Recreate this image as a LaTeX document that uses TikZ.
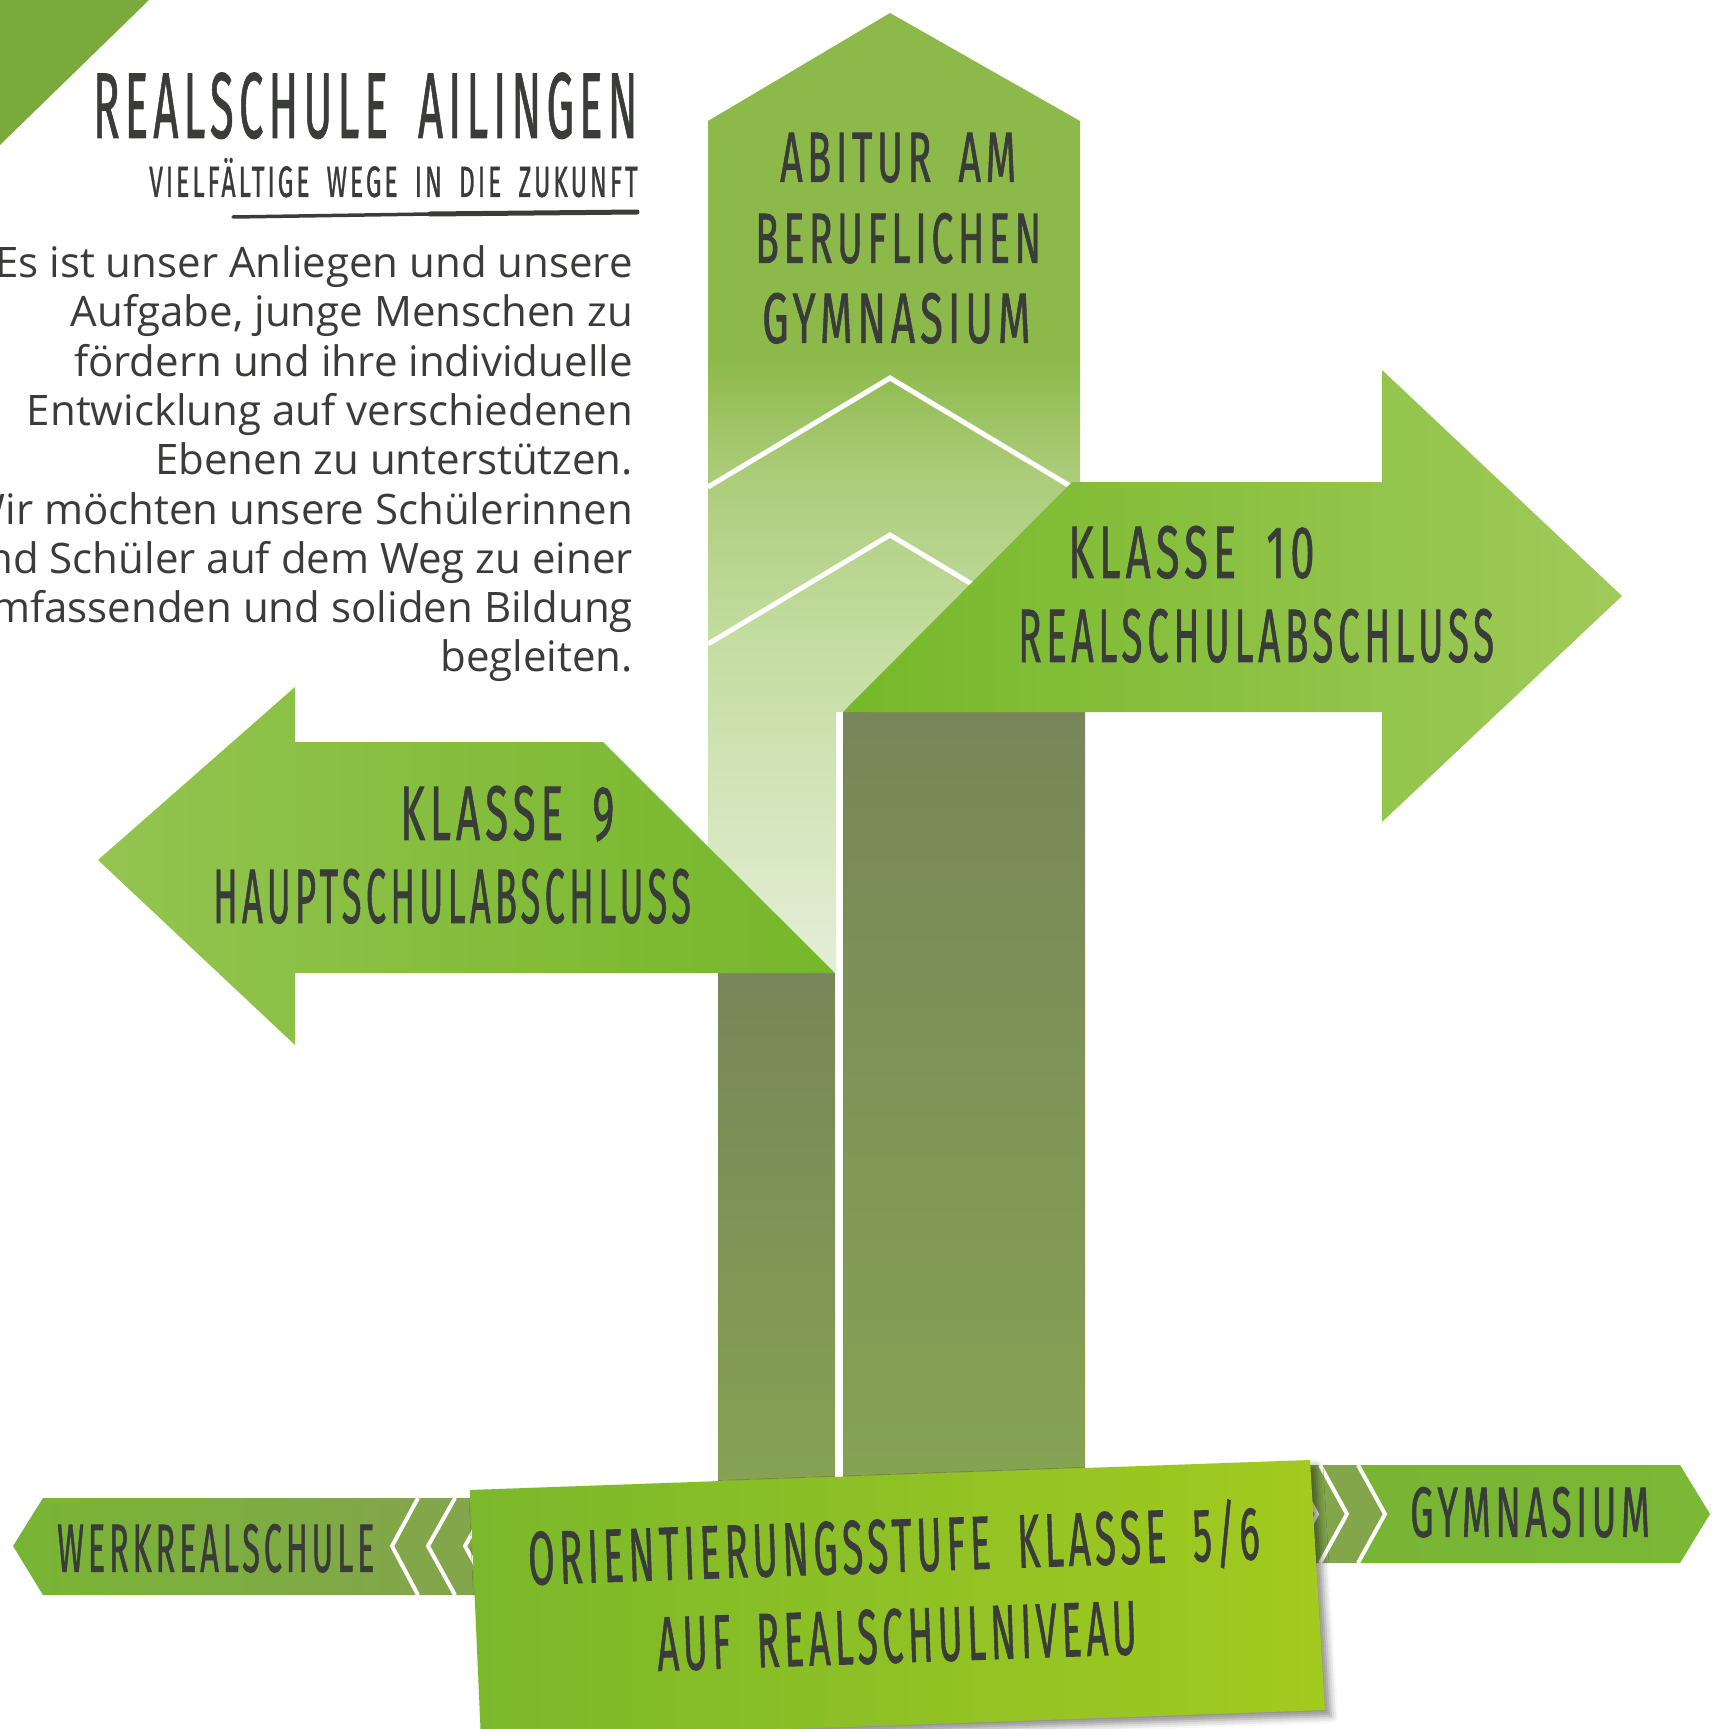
\documentclass[tikz,border=0pt]{standalone}
\usepackage{fontspec}
\usepackage{graphicx}
\setmainfont{Open Sans}
\newfontfamily\handfont[LetterSpace=12,WordSpace=1.8,FakeBold=1.2]{Fira Sans}
\newfontfamily\bodyfont{Open Sans}
\usetikzlibrary{shadows.blur}
\definecolor{txt}{HTML}{3A3C3A}
\definecolor{cornergreen}{HTML}{7BAA3C}
\definecolor{abA}{HTML}{8DB94A}
\definecolor{abB}{HTML}{ABCC7A}
\definecolor{abC}{HTML}{C5DDA2}
\definecolor{abD}{HTML}{E4EED7}
\definecolor{kzL}{HTML}{76B82A}
\definecolor{kzR}{HTML}{A0CA5A}
\definecolor{knL}{HTML}{93C450}
\definecolor{knR}{HTML}{76B72A}
\definecolor{stemT}{HTML}{788659}
\definecolor{stemB}{HTML}{87A453}
\definecolor{olive}{HTML}{83A64B}
\definecolor{bandG}{HTML}{78B534}
\definecolor{bandGR}{HTML}{7BB836}
\definecolor{boxL}{HTML}{7BB82B}
\definecolor{boxR}{HTML}{A3CA1F}
\pgfdeclareverticalshading{abit}{100bp}{color(0bp)=(abD); color(25bp)=(abD); color(42bp)=(abC); color(51bp)=(abB); color(57bp)=(abA); color(100bp)=(abA)}
\newcommand\hw[3]{\resizebox{#1pt}{#2pt}{\handfont\smash{#3\kern-0.10em}\vphantom{H}}}
\begin{document}
\begin{tikzpicture}[x=1pt,y=-1pt,
  hand/.style={inner sep=0pt, text=txt, anchor=south west},
  body/.style={inner sep=0pt, text=txt, anchor=base east, font=\bodyfont\fontsize{42}{48}\selectfont},
  chev/.style={draw=white, line width=5pt, line join=miter}]
\path[use as bounding box] (0,0) rectangle (1712,1729);
\clip (0,0) rectangle (1712,1729);
% corner
\fill[cornergreen] (0,0) -- (149,0) -- (0,145) -- cycle;
% title block
\node[hand] (title) at (93,138) {\hw{540}{64}{REALSCHULE AILINGEN}};
\node[hand] (subtitle) at (149,197) {\hw{486}{30}{VIELFÄLTIGE WEGE IN DIE ZUKUNFT}};
\coordinate (ulA) at (233,217);
\coordinate (ulM) at (430,214);
\coordinate (ulB) at (637,212);
\draw[txt, line width=3.5pt, line cap=round] (ulA) -- (ulM);
\draw[txt, line width=5pt, line cap=round] (ulM) -- (ulB);
\node[body] (b1) at (633,277.5) {Es ist unser Anliegen und unsere};
\node[body] (b2) at (633,326.8) {Aufgabe, junge Menschen zu};
\node[body] (b3) at (633,376.1) {fördern und ihre individuelle};
\node[body] (b4) at (633,425.4) {Entwicklung auf verschiedenen};
\node[body] (b5) at (633,474.7) {Ebenen zu unterstützen.};
\node[body] (b6) at (633,524.0) {Wir möchten unsere Schülerinnen};
\node[body] (b7) at (633,573.3) {und Schüler auf dem Weg zu einer};
\node[body] (b8) at (633,622.6) {umfassenden und soliden Bildung};
\node[body] (b9) at (633,671.9) {begleiten.};
% Abitur arrow
\shade[shading=abit] (708,972) -- (708,121) -- (890,13) -- (1080,121) -- (1080,712) -- (836,712) -- (836,972) -- cycle;
\draw[chev] (708,487) -- (890,378) -- (1080,492);
\draw[chev] (708,644) -- (890,535) -- (1080,649);
\node[hand] (abi1) at (780,182) {\hw{232}{49}{ABITUR AM}};
\node[hand] (abi2) at (755,263) {\hw{282}{49}{BERUFLICHEN}};
\node[hand] (abi3) at (762,343) {\hw{264}{49}{GYMNASIUM}};
% stems
\shade[top color=stemT, bottom color=stemB] (718,973) rectangle (835,1520);
\shade[top color=stemT, bottom color=stemB] (843,712) rectangle (1085,1520);
% Klasse 9 arrow
\shade[left color=knL, right color=knR] (98,860) -- (295,687) -- (295,742) -- (603,742) -- (835,973) -- (295,973) -- (295,1045) -- cycle;
\node[hand] (k9a) at (400,840) {\hw{210}{53}{KLASSE 9}};
\node[hand] (k9b) at (213,923) {\hw{474}{53}{HAUPTSCHULABSCHLUSS}};
% Klasse 10 arrow
\shade[left color=kzL, right color=kzR] (843,712) -- (1072,482) -- (1382,482) -- (1382,370) -- (1622,596) -- (1382,822) -- (1382,712) -- cycle;
\node[hand] (k10a) at (1068,578) {\hw{242}{51}{KLASSE 10}};
\node[hand] (k10b) at (1018,662) {\hw{472}{52}{REALSCHULABSCHLUSS}};
% Werkrealschule band
\fill[olive] (392,1546) -- (418,1498) -- (500,1498) -- (500,1595) -- (418,1595) -- cycle;
\shade[left color=bandG, right color=olive] (13,1546) -- (43,1498) -- (418,1498) -- (392,1546) -- (418,1595) -- (43,1595) -- cycle;
\draw[chev, line width=4pt] (418,1498) -- (392,1546) -- (418,1595);
\draw[chev, line width=4pt] (455,1498) -- (428,1546) -- (455,1595);
\draw[chev, line width=4pt] (492,1498) -- (465,1546) -- (492,1595);
\node[hand] (werk) at (57,1572) {\hw{314}{47}{WERKREALSCHULE}};
% Gymnasium band
\fill[olive] (1280,1465) -- (1358,1465) -- (1385,1514) -- (1358,1563) -- (1280,1563) -- cycle;
\shade[left color=bandG, right color=bandGR] (1358,1465) -- (1680,1465) -- (1710,1514) -- (1680,1563) -- (1358,1563) -- (1385,1514) -- cycle;
\draw[chev, line width=4pt] (1290,1465) -- (1317,1514) -- (1290,1563);
\draw[chev, line width=4pt] (1320,1465) -- (1347,1514) -- (1320,1563);
\draw[chev, line width=4pt] (1358,1465) -- (1385,1514) -- (1358,1563);
\node[hand] (gym) at (1410,1537) {\hw{236}{49}{GYMNASIUM}};
% Orientierungsstufe box
\shade[left color=boxL, right color=boxR, blur shadow={shadow xshift=6pt, shadow yshift=-6pt, shadow blur radius=7pt, shadow opacity=45}] (470,1490) -- (1310,1460) -- (1325,1710) -- (481,1740) -- cycle;
\node[inner sep=0pt, text=txt, rotate=2] (ori1) at (892,1546) {\hw{728}{52}{ORIENTIERUNGSSTUFE KLASSE 5/6}};
\node[inner sep=0pt, text=txt, rotate=2] (ori2) at (895,1636) {\hw{476}{53}{AUF REALSCHULNIVEAU}};
\end{tikzpicture}
\end{document}
